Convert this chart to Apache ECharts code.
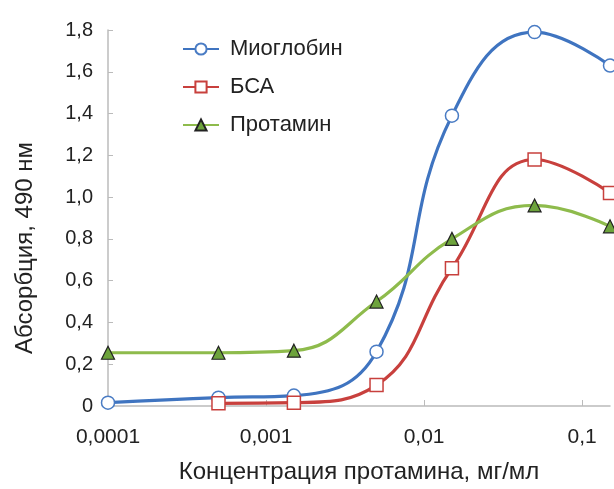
<!DOCTYPE html>
<html><head><meta charset="utf-8">
<script src="https://cdn.jsdelivr.net/npm/echarts@6/dist/echarts.min.js"></script>
<style>html,body{margin:0;padding:0;background:#fff}#c{width:614px;height:489px}</style>
</head><body><div id="c"></div>
<script>
const concentrations = [0.0001, 0.0005, 0.0015, 0.005, 0.015, 0.05, 0.15];
const myoglobin = [0.016, 0.04, 0.05, 0.26, 1.39, 1.79, 1.63];
const bsa = [null, 0.013, 0.016, 0.10, 0.66, 1.18, 1.02];
const protamine = [0.255, 0.255, 0.265, 0.50, 0.80, 0.96, 0.86];
const seriesNames = ['Миоглобин', 'БСА', 'Протамин'];
const xTicks = [0.0001, 0.001, 0.01, 0.1];
const yTicks = [0, 0.2, 0.4, 0.6, 0.8, 1.0, 1.2, 1.4, 1.6, 1.8];

function pairs(vals){ return concentrations.map((x,i)=>vals[i]==null?null:[x,vals[i]]).filter(p=>p); }
const font = 'Liberation Sans, Arial, sans-serif';
const chart = echarts.init(document.getElementById('c'));
chart.setOption({
  animation:false,
  textStyle:{fontFamily:font},
  grid:{left:108,right:4,top:30,bottom:83,containLabel:false,outerBoundsMode:'none'},
  legend:{
    orient:'vertical', left:177, top:33, itemWidth:36, itemHeight:14, itemGap:16,
    textStyle:{fontSize:22,color:'#222',fontFamily:font,padding:[0,0,0,6]},
    data:seriesNames
  },
  xAxis:{
    type:'log', logBase:10, min:xTicks[0], max:0.15,
    name:'Концентрация протамина, мг/мл', nameLocation:'middle', nameGap:54,
    nameTextStyle:{fontSize:24,color:'#222'},
    axisLine:{lineStyle:{color:'#bbb',width:1.5}},
    axisTick:{inside:true,length:6,lineStyle:{color:'#bbb'}},
    splitLine:{show:false},
    axisLabel:{fontSize:21,color:'#222',margin:21,showMaxLabel:false,
      formatter:v=>{const r=+(+v).toPrecision(6); return xTicks.some(t=>Math.abs(t-r)/t<1e-6)?String(r).replace('.',','):'';}}
  },
  yAxis:{
    type:'value', min:yTicks[0], max:yTicks[yTicks.length-1], interval:0.2,
    name:'Абсорбция, 490 нм', nameLocation:'middle', nameGap:71, nameRotate:90,
    nameTextStyle:{fontSize:24,color:'#222',padding:[0,60,0,0]},
    axisLine:{show:true,lineStyle:{color:'#bbb',width:1.5}},
    axisTick:{show:true,inside:true,length:5,lineStyle:{color:'#bbb'}},
    splitLine:{show:false},
    axisLabel:{fontSize:20,color:'#222',margin:15,
      formatter:v=>v===0?'0':(+v).toFixed(1).replace('.',',')}
  },
  series:[
    {name:seriesNames[0],type:'line',smooth:0.45,data:pairs(myoglobin),
     symbol:'circle',symbolSize:13,
     lineStyle:{color:'#3f74c0',width:3.2},
     itemStyle:{color:'#fff',borderColor:'#4a7cc4',borderWidth:1.5}},
    {name:seriesNames[1],type:'line',smooth:0.45,data:pairs(bsa),
     symbol:'rect',symbolSize:13,
     lineStyle:{color:'#c8403d',width:3.2},
     itemStyle:{color:'#fff',borderColor:'#c8403d',borderWidth:1.5}},
    {name:seriesNames[2],type:'line',smooth:0.45,data:pairs(protamine),
     symbol:'triangle',symbolSize:13,
     lineStyle:{color:'#8ebb4c',width:3.2},
     itemStyle:{color:'#6da33c',borderColor:'#222',borderWidth:1.2}}
  ]
});
</script></body></html>
